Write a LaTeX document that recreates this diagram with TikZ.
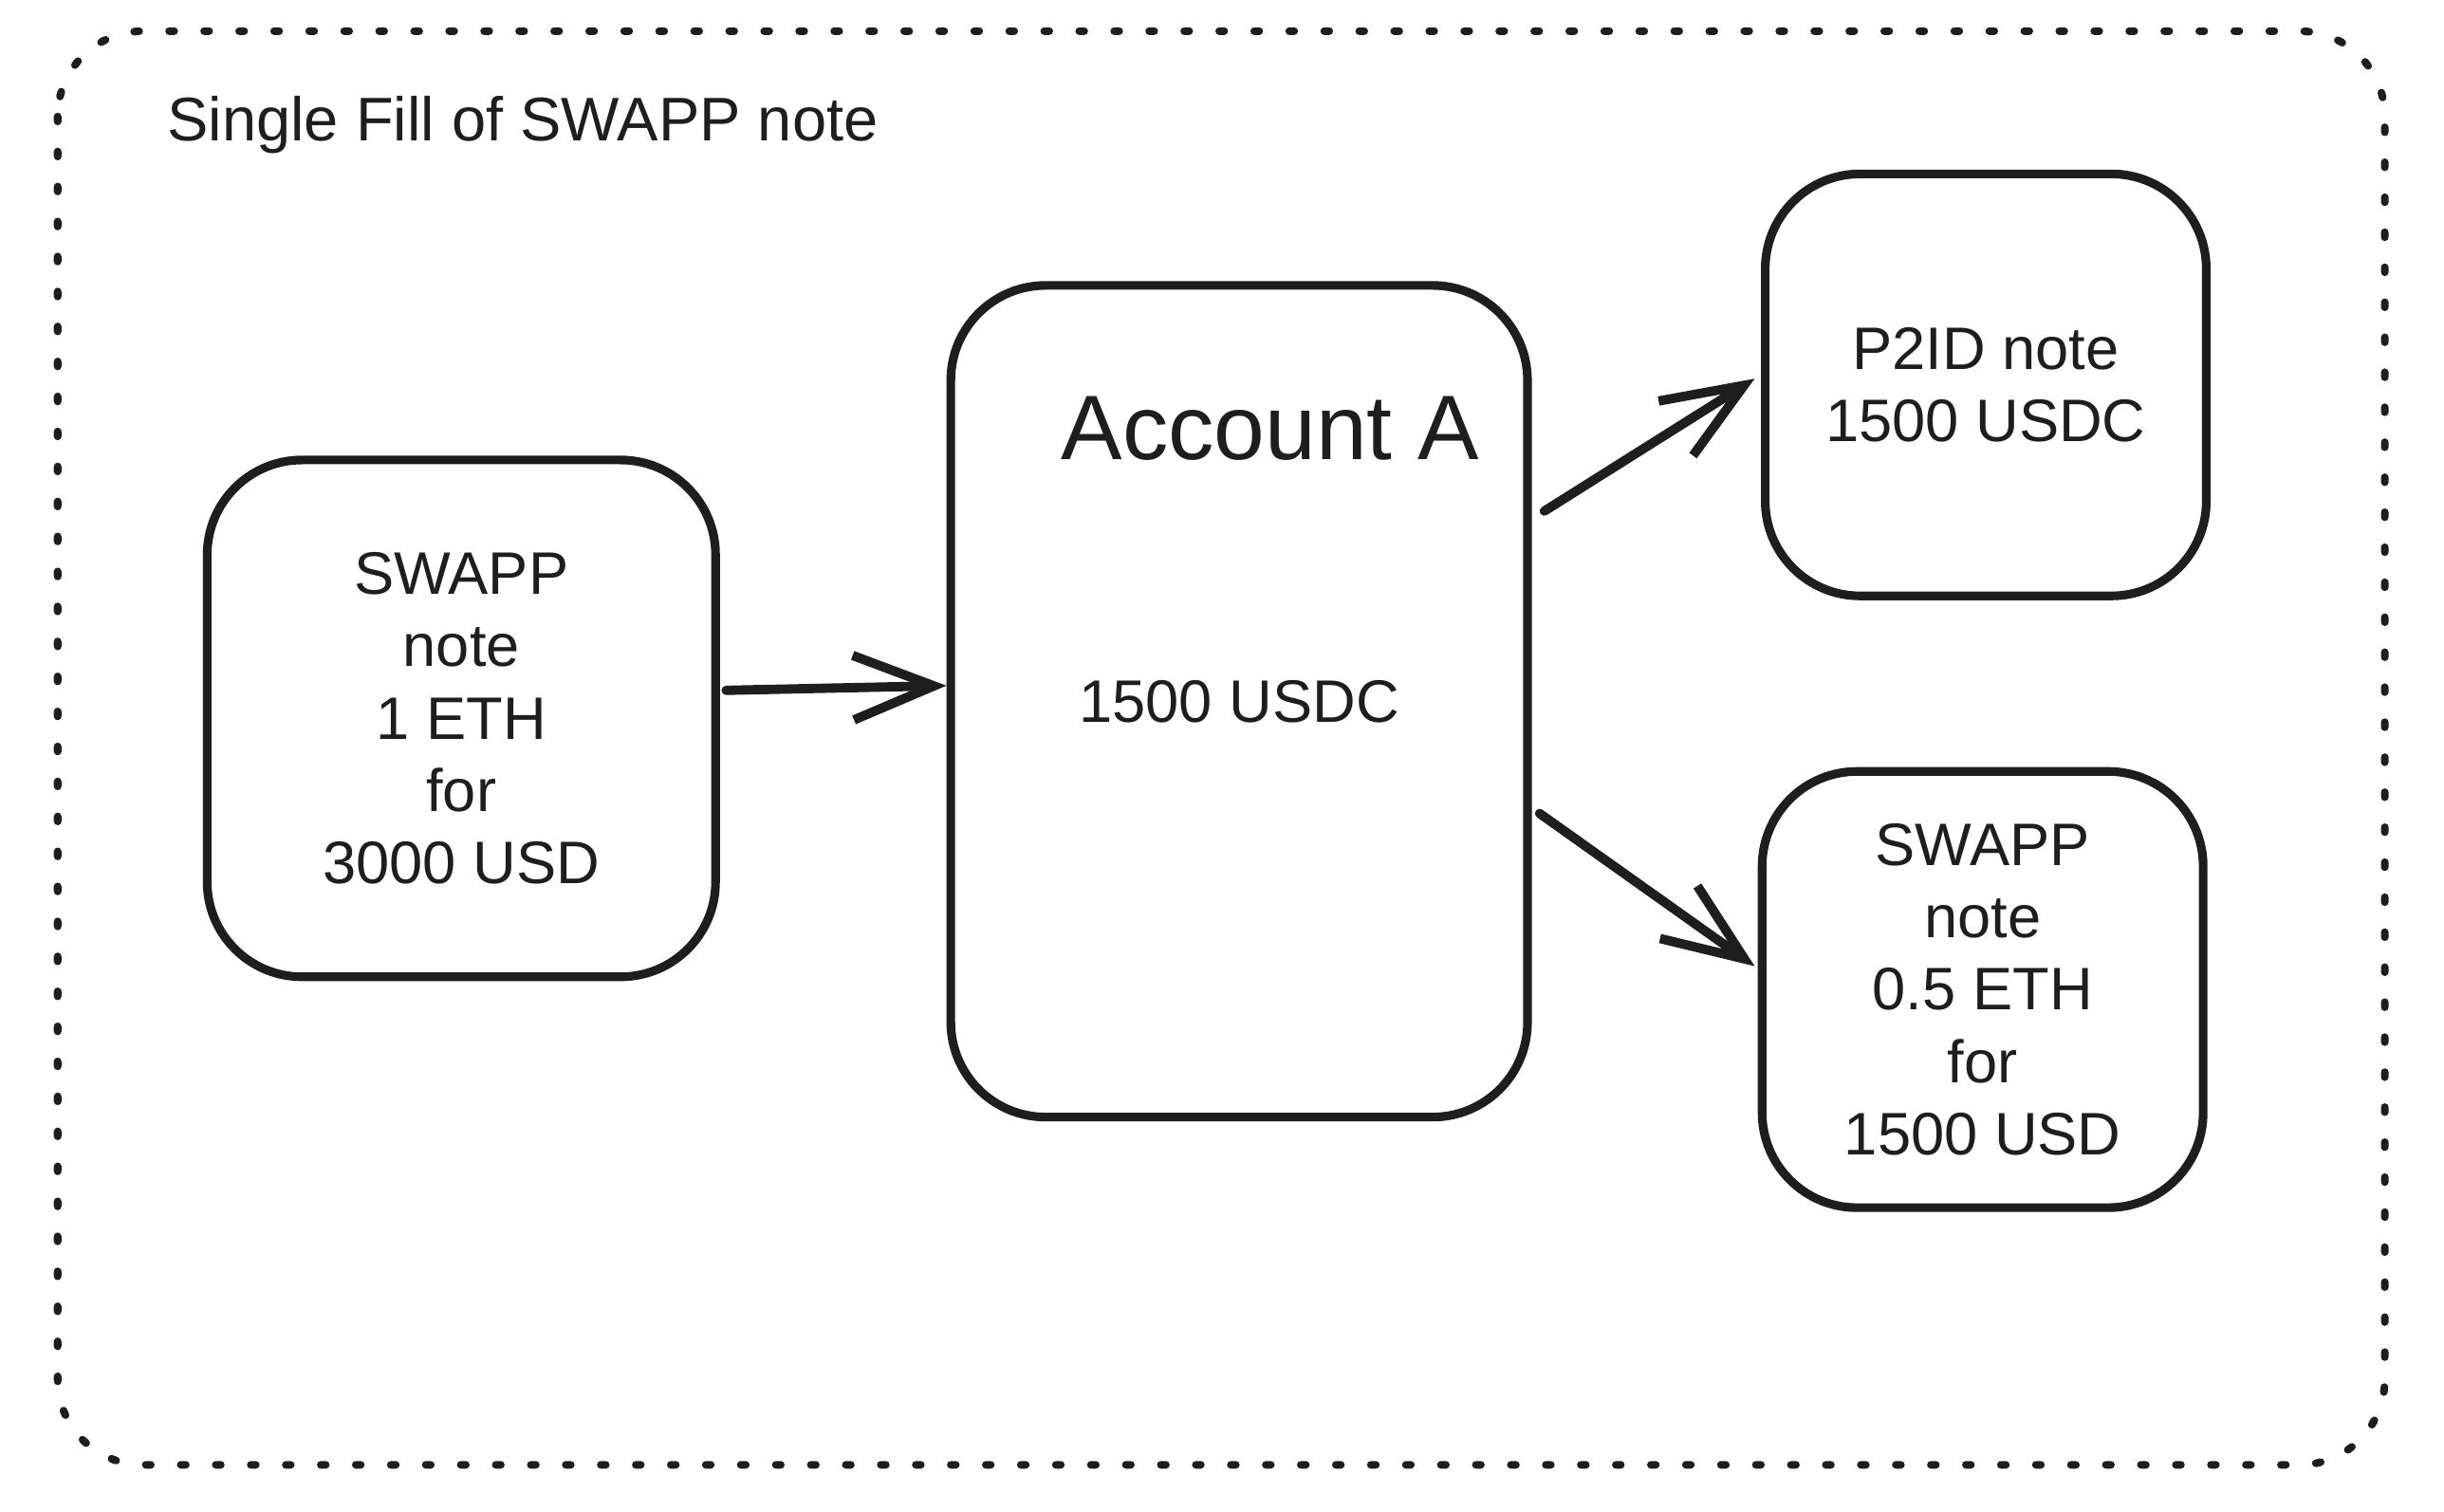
\documentclass[tikz,border=0pt]{standalone}
\usepackage{fontspec}
\setmainfont{Liberation Sans}
\usetikzlibrary{arrows.meta,calc}
\definecolor{ink}{HTML}{1E1E1E}
\tikzset{
  box/.style={draw=ink, line width=2.6pt, rounded corners=1cm, inner sep=0pt,
    align=center, text=ink, font=\fontsize{18}{21.7}\selectfont},
  arr/.style={draw=ink, line width=2.8pt, line cap=round,
    -{Straight Barb[length=0.85cm,width=0.68cm,line width=2.8pt]}},
  frame/.style={draw=ink, line width=2.3pt, line cap=round, rounded corners=0.9cm,
    dash pattern=on 1.5pt off 9pt}
}
\begin{document}
\begin{tikzpicture}[x=0.016429cm,y=-0.016429cm]
\useasboundingbox (0,0) rectangle (1568,970);
\draw [frame] (37,20) rectangle (1530,940);
\node [anchor=west, inner sep=0pt, text=ink, font=\fontsize{18.5}{22}\selectfont] (title) at (107,80) {Single Fill of SWAPP note};
%
\node [box, minimum width=5.36cm, minimum height=5.45cm] (swap1) at (296,461) {SWAPP\\note\\1 ETH\\for\\3000 USD};
\node [box, minimum width=6.08cm, minimum height=8.77cm] (acct) at (795,450) {1500 USDC};
\node [text=ink, font=\fontsize{27.5}{33}\selectfont] (acctname) at (815,275) {Account A};
\node [box, minimum width=4.65cm, minimum height=4.45cm] (p2id) at (1274,247) {P2ID note\\1500 USDC};
\node [box, minimum width=4.65cm, minimum height=4.6cm] (swap2) at (1272,635) {SWAPP\\note\\0.5 ETH\\for\\1500 USD};
%
\draw [arr] ($(swap1.east)+(4,-18)$) -- ($(acct.west)+(0,-10)$);
\draw [arr] ($(acct.east)+(8,-122)$) -- ($(p2id.west)+(-4,-4)$);
\draw [arr] ($(acct.east)+(5,72)$) -- ($(swap2.west)+(-2,-15)$);
\end{tikzpicture}
\end{document}
